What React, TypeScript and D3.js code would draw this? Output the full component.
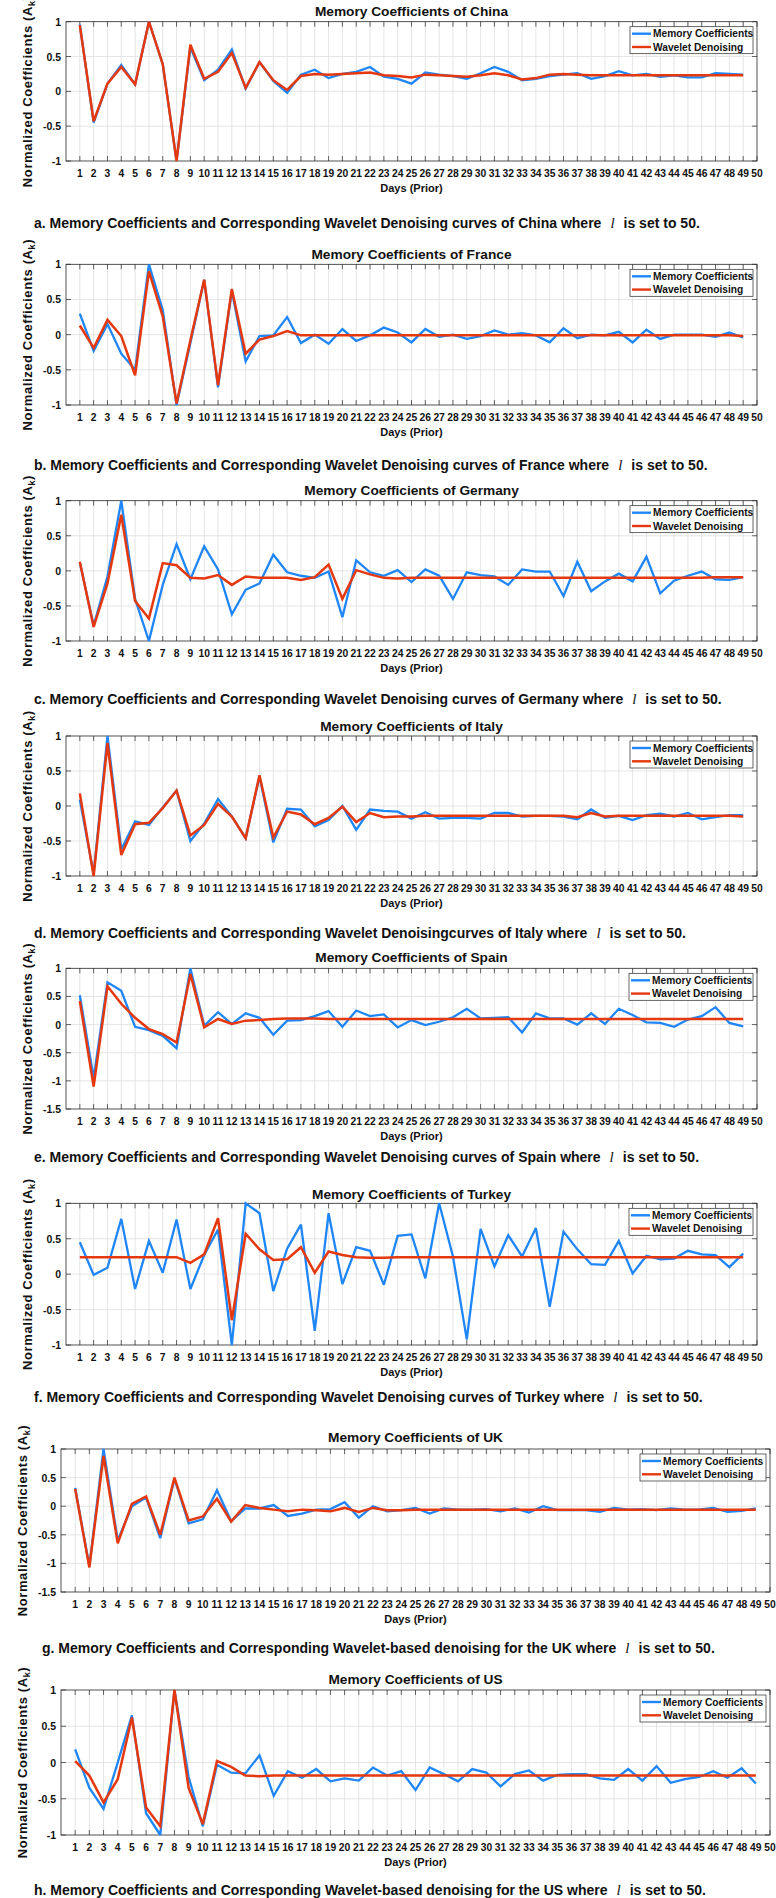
import React from 'react';
import * as d3 from 'd3';

const days = [1,2,3,4,5,6,7,8,9,10,11,12,13,14,15,16,17,18,19,20,21,22,23,24,25,26,27,28,29,30,31,32,33,34,35,36,37,38,39,40,41,42,43,44,45,46,47,48,49];
const xTickValues = [1,2,3,4,5,6,7,8,9,10,11,12,13,14,15,16,17,18,19,20,21,22,23,24,25,26,27,28,29,30,31,32,33,34,35,36,37,38,39,40,41,42,43,44,45,46,47,48,49,50];
const yTicksStd = [-1, -0.5, 0, 0.5, 1];
const yTicksWide = [-1.5, -1, -0.5, 0, 0.5, 1];

const chinaMemory = [0.96,-0.45,0.11,0.38,0.1,1.0,0.39,-1.0,0.63,0.16,0.31,0.6,0.04,0.42,0.15,-0.02,0.24,0.31,0.19,0.25,0.28,0.35,0.21,0.18,0.11,0.27,0.24,0.22,0.18,0.26,0.35,0.28,0.16,0.18,0.22,0.24,0.26,0.18,0.22,0.29,0.23,0.25,0.21,0.23,0.2,0.2,0.26,0.25,0.24];
const chinaWavelet = [0.95,-0.43,0.11,0.35,0.1,1.0,0.39,-1.0,0.67,0.18,0.28,0.55,0.05,0.42,0.16,0.02,0.22,0.25,0.24,0.25,0.26,0.27,0.23,0.22,0.2,0.24,0.23,0.22,0.21,0.23,0.26,0.23,0.17,0.19,0.24,0.25,0.24,0.23,0.23,0.23,0.23,0.23,0.23,0.23,0.23,0.23,0.23,0.23,0.23];

const franceMemory = [0.3,-0.23,0.15,-0.27,-0.5,1.0,0.35,-1.0,-0.12,0.78,-0.75,0.62,-0.38,-0.02,-0.01,0.25,-0.12,0.0,-0.13,0.08,-0.09,-0.01,0.1,0.03,-0.11,0.08,-0.03,0.0,-0.06,-0.02,0.06,0.0,0.02,-0.01,-0.11,0.09,-0.05,0.0,-0.01,0.04,-0.11,0.07,-0.06,0.0,0.0,0.0,-0.03,0.03,-0.04];
const franceWavelet = [0.13,-0.19,0.21,-0.02,-0.58,0.9,0.26,-0.98,-0.08,0.78,-0.72,0.65,-0.27,-0.07,-0.02,0.05,-0.01,-0.01,-0.01,-0.01,-0.01,-0.01,-0.01,-0.01,-0.01,-0.01,-0.01,-0.01,-0.01,-0.01,-0.01,-0.01,-0.01,-0.01,-0.01,-0.01,-0.01,-0.01,-0.01,-0.01,-0.01,-0.01,-0.01,-0.01,-0.01,-0.01,-0.01,-0.01,-0.02];

const germanyMemory = [0.12,-0.78,-0.08,1.0,-0.4,-1.0,-0.2,0.38,-0.12,0.35,0.02,-0.62,-0.27,-0.18,0.23,-0.02,-0.07,-0.1,-0.01,-0.66,0.15,-0.02,-0.07,0.01,-0.16,0.02,-0.07,-0.4,-0.02,-0.06,-0.08,-0.2,0.02,-0.01,-0.01,-0.36,0.13,-0.29,-0.15,-0.04,-0.15,0.2,-0.32,-0.14,-0.07,-0.01,-0.12,-0.13,-0.09];
const germanyWavelet = [0.13,-0.8,-0.18,0.8,-0.43,-0.68,0.11,0.08,-0.1,-0.11,-0.06,-0.2,-0.08,-0.1,-0.1,-0.1,-0.13,-0.09,0.09,-0.4,0.01,-0.05,-0.1,-0.11,-0.1,-0.1,-0.1,-0.1,-0.1,-0.1,-0.1,-0.1,-0.1,-0.1,-0.1,-0.1,-0.1,-0.1,-0.1,-0.1,-0.1,-0.1,-0.1,-0.1,-0.1,-0.1,-0.09,-0.09,-0.09];

const italyMemory = [0.09,-0.97,1.0,-0.62,-0.22,-0.27,-0.02,0.22,-0.5,-0.25,0.1,-0.15,-0.46,0.42,-0.52,-0.04,-0.05,-0.29,-0.2,0.0,-0.34,-0.05,-0.07,-0.08,-0.18,-0.09,-0.18,-0.17,-0.17,-0.18,-0.1,-0.1,-0.15,-0.14,-0.14,-0.15,-0.19,-0.05,-0.17,-0.14,-0.2,-0.13,-0.11,-0.15,-0.1,-0.19,-0.16,-0.13,-0.13];
const italyWavelet = [0.18,-1.0,0.9,-0.7,-0.26,-0.24,-0.03,0.22,-0.42,-0.27,0.03,-0.15,-0.46,0.44,-0.45,-0.08,-0.12,-0.26,-0.17,-0.01,-0.23,-0.1,-0.16,-0.15,-0.15,-0.14,-0.14,-0.14,-0.14,-0.14,-0.14,-0.14,-0.14,-0.14,-0.14,-0.14,-0.16,-0.1,-0.15,-0.14,-0.14,-0.14,-0.14,-0.14,-0.14,-0.14,-0.14,-0.14,-0.15];

const spainMemory = [0.52,-0.95,0.75,0.6,-0.04,-0.1,-0.2,-0.42,1.0,-0.02,0.22,0.01,0.2,0.12,-0.18,0.07,0.08,0.15,0.24,-0.04,0.25,0.15,0.18,-0.05,0.08,-0.01,0.05,0.13,0.28,0.11,0.12,0.13,-0.14,0.2,0.11,0.11,0.0,0.2,0.01,0.28,0.17,0.04,0.03,-0.04,0.09,0.15,0.31,0.03,-0.03];
const spainWavelet = [0.42,-1.1,0.68,0.37,0.12,-0.08,-0.17,-0.32,0.9,-0.05,0.1,0.01,0.07,0.08,0.1,0.11,0.11,0.11,0.1,0.1,0.1,0.1,0.1,0.1,0.1,0.1,0.1,0.1,0.1,0.1,0.1,0.1,0.1,0.1,0.1,0.1,0.1,0.1,0.1,0.1,0.1,0.1,0.1,0.1,0.1,0.1,0.1,0.1,0.1];

const turkeyMemory = [0.45,-0.01,0.09,0.78,-0.21,0.47,0.02,0.77,-0.21,0.27,0.63,-1.0,1.0,0.86,-0.24,0.36,0.7,-0.8,0.86,-0.14,0.38,0.33,-0.15,0.54,0.56,-0.06,1.0,0.25,-0.92,0.64,0.11,0.55,0.25,0.65,-0.46,0.6,0.35,0.14,0.13,0.47,0.01,0.26,0.21,0.22,0.33,0.28,0.27,0.1,0.29];
const turkeyWavelet = [0.24,0.24,0.24,0.24,0.24,0.24,0.24,0.24,0.16,0.28,0.79,-0.65,0.57,0.35,0.2,0.21,0.38,0.02,0.32,0.27,0.24,0.23,0.23,0.24,0.24,0.24,0.24,0.24,0.24,0.24,0.24,0.24,0.24,0.24,0.24,0.24,0.24,0.24,0.24,0.24,0.24,0.24,0.24,0.24,0.24,0.24,0.24,0.24,0.24];

const ukMemory = [0.32,-1.05,1.0,-0.6,0.0,0.15,-0.56,0.48,-0.3,-0.23,0.28,-0.26,-0.04,-0.04,0.02,-0.17,-0.13,-0.06,-0.05,0.07,-0.2,0.0,-0.09,-0.07,-0.03,-0.13,-0.04,-0.06,-0.06,-0.05,-0.09,-0.04,-0.11,0.0,-0.07,-0.07,-0.07,-0.1,-0.03,-0.06,-0.05,-0.07,-0.04,-0.06,-0.06,-0.03,-0.1,-0.08,-0.04];
const ukWavelet = [0.3,-1.07,0.88,-0.65,0.04,0.17,-0.5,0.5,-0.25,-0.18,0.13,-0.27,0.02,-0.03,-0.06,-0.09,-0.06,-0.07,-0.09,-0.03,-0.1,-0.03,-0.07,-0.07,-0.06,-0.06,-0.06,-0.06,-0.06,-0.06,-0.06,-0.06,-0.06,-0.06,-0.06,-0.06,-0.06,-0.06,-0.06,-0.06,-0.06,-0.06,-0.06,-0.06,-0.06,-0.06,-0.06,-0.06,-0.06];

const usMemory = [0.18,-0.35,-0.64,0.0,0.65,-0.7,-1.0,1.0,-0.2,-0.88,-0.03,-0.14,-0.15,0.1,-0.46,-0.12,-0.21,-0.09,-0.26,-0.22,-0.25,-0.07,-0.18,-0.12,-0.38,-0.07,-0.16,-0.26,-0.09,-0.14,-0.33,-0.16,-0.11,-0.25,-0.17,-0.16,-0.16,-0.22,-0.24,-0.09,-0.25,-0.05,-0.28,-0.23,-0.2,-0.12,-0.21,-0.08,-0.29];
const usWavelet = [0.02,-0.18,-0.55,-0.23,0.62,-0.62,-0.88,1.0,-0.35,-0.85,0.02,-0.06,-0.18,-0.19,-0.18,-0.18,-0.18,-0.18,-0.18,-0.18,-0.18,-0.18,-0.18,-0.18,-0.18,-0.18,-0.18,-0.18,-0.18,-0.18,-0.18,-0.18,-0.18,-0.18,-0.18,-0.18,-0.18,-0.18,-0.18,-0.18,-0.18,-0.18,-0.18,-0.18,-0.18,-0.18,-0.18,-0.18,-0.18];

const seriesNames = ['Memory Coefficients', 'Wavelet Denoising'];
const seriesColors = ['#1f86f7', '#e5380f'];

type Panel = {
  title: string;
  mem: number[];
  wav: number[];
  yTicks: number[];
  top: number;
  bottom: number;
  left: number;
  right: number;
  titleY: number;
  captionY: number;
  captionX: number;
  yLabelX: number;
  capPre: string;
  legendW: number;
};

const panels: Panel[] = [
  { title: 'Memory Coefficients of China', mem: chinaMemory, wav: chinaWavelet, yTicks: yTicksStd, top: 21.7, bottom: 161, left: 66, right: 757, titleY: 11.7, captionY: 223, captionX: 34, yLabelX: 27, capPre: 'a. Memory Coefficients and Corresponding Wavelet Denoising curves of China where', legendW: 123 },
  { title: 'Memory Coefficients of France', mem: franceMemory, wav: franceWavelet, yTicks: yTicksStd, top: 264.3, bottom: 405, left: 66, right: 757, titleY: 254, captionY: 465, captionX: 34, yLabelX: 27, capPre: 'b. Memory Coefficients and Corresponding Wavelet Denoising curves of France where', legendW: 123 },
  { title: 'Memory Coefficients of Germany', mem: germanyMemory, wav: germanyWavelet, yTicks: yTicksStd, top: 500.7, bottom: 641, left: 66, right: 757, titleY: 490, captionY: 699, captionX: 34, yLabelX: 27, capPre: 'c. Memory Coefficients and Corresponding Wavelet Denoising curves of Germany where', legendW: 123 },
  { title: 'Memory Coefficients of Italy', mem: italyMemory, wav: italyWavelet, yTicks: yTicksStd, top: 736, bottom: 876, left: 66, right: 757, titleY: 726, captionY: 933, captionX: 34, yLabelX: 27, capPre: 'd. Memory Coefficients and Corresponding Wavelet Denoisingcurves of Italy where', legendW: 123 },
  { title: 'Memory Coefficients of Spain', mem: spainMemory, wav: spainWavelet, yTicks: yTicksWide, top: 968.3, bottom: 1109, left: 66, right: 757, titleY: 957.7, captionY: 1157, captionX: 34, yLabelX: 27, capPre: 'e. Memory Coefficients and Corresponding Wavelet Denoising curves of Spain where', legendW: 124 },
  { title: 'Memory Coefficients of Turkey', mem: turkeyMemory, wav: turkeyWavelet, yTicks: yTicksStd, top: 1203.3, bottom: 1345, left: 66, right: 757, titleY: 1194, captionY: 1397, captionX: 34, yLabelX: 27, capPre: 'f. Memory Coefficients and Corresponding Wavelet Denoising curves of Turkey where', legendW: 124 },
  { title: 'Memory Coefficients of UK', mem: ukMemory, wav: ukWavelet, yTicks: yTicksWide, top: 1449, bottom: 1592, left: 61, right: 770, titleY: 1437.7, captionY: 1648, captionX: 42, yLabelX: 22, capPre: 'g. Memory Coefficients and Corresponding Wavelet-based denoising for the UK where', legendW: 126 },
  { title: 'Memory Coefficients of US', mem: usMemory, wav: usWavelet, yTicks: yTicksStd, top: 1690, bottom: 1835, left: 61, right: 770, titleY: 1679, captionY: 1890, captionX: 34, yLabelX: 22, capPre: 'h. Memory Coefficients and Corresponding Wavelet-based denoising for the US where', legendW: 126 },
];

const FONT = '"Liberation Sans", Arial, Helvetica, sans-serif';
const AXIS = '#262626';
const GRID = '#dedede';

function PanelChart({ p }: { p: Panel }) {
  const x = d3.scaleLinear().domain([0, 50]).range([p.left, p.right]);
  const yMin = p.yTicks[0];
  const y = d3.scaleLinear().domain([yMin, 1]).range([p.bottom, p.top]);
  const line = d3.line<number>().x((_, i) => x(days[i])).y((v) => y(v));
  const cx = (p.left + p.right) / 2;
  const cy = (p.top + p.bottom) / 2;
  const lgX = p.right - 4 - p.legendW;
  const lgY = p.top + 5;
  return (
    <g>
      {xTickValues.slice(0, 49).map((t) => (
        <line key={'gx' + t} x1={x(t)} x2={x(t)} y1={p.top} y2={p.bottom} stroke={GRID} strokeWidth={0.8} />
      ))}
      {p.yTicks.slice(1, -1).map((t) => (
        <line key={'gy' + t} x1={p.left} x2={p.right} y1={y(t)} y2={y(t)} stroke={GRID} strokeWidth={0.8} />
      ))}
      {xTickValues.map((t) => (
        <g key={'tx' + t}>
          <line x1={x(t)} x2={x(t)} y1={p.bottom} y2={p.bottom - 5} stroke={AXIS} strokeWidth={0.7} />
          <line x1={x(t)} x2={x(t)} y1={p.top} y2={p.top + 5} stroke={AXIS} strokeWidth={0.7} />
          <text x={x(t)} y={p.bottom + 12} textAnchor="middle" dominantBaseline="central" fontFamily={FONT} fontWeight="bold" fontSize={10.3} fill="#111">{t}</text>
        </g>
      ))}
      {p.yTicks.map((t) => (
        <g key={'ty' + t}>
          <line x1={p.left} x2={p.left + 5} y1={y(t)} y2={y(t)} stroke={AXIS} strokeWidth={0.7} />
          <line x1={p.right} x2={p.right - 5} y1={y(t)} y2={y(t)} stroke={AXIS} strokeWidth={0.7} />
          <text x={p.left - 5} y={y(t)} textAnchor="end" dominantBaseline="central" fontFamily={FONT} fontWeight="bold" fontSize={10.5} fill="#111">{String(t)}</text>
        </g>
      ))}
      <rect x={p.left} y={p.top} width={p.right - p.left} height={p.bottom - p.top} fill="none" stroke={AXIS} strokeWidth={0.8} />
      <path d={line(p.mem) || ''} fill="none" stroke={seriesColors[0]} strokeWidth={2.3} strokeLinejoin="miter" strokeMiterlimit={3} />
      <path d={line(p.wav) || ''} fill="none" stroke={seriesColors[1]} strokeWidth={2.5} strokeLinejoin="miter" strokeMiterlimit={3} />
      <text x={cx} y={p.titleY} textAnchor="middle" dominantBaseline="central" fontFamily={FONT} fontWeight="bold" fontSize={13.7} fill="#111">{p.title}</text>
      <text transform={`translate(${p.yLabelX},${cy}) rotate(-90)`} textAnchor="middle" dominantBaseline="central" fontFamily={FONT} fontWeight="bold" fontSize={13} letterSpacing={0.6} fill="#111">
        Normalized Coefficients (A<tspan fontSize={9} baselineShift="sub">k</tspan>)
      </text>
      <text x={cx} y={p.bottom + 27} textAnchor="middle" dominantBaseline="central" fontFamily={FONT} fontWeight="bold" fontSize={11} fill="#111">Days (Prior)</text>
      <rect x={lgX} y={lgY} width={p.legendW} height={27} fill="#fff" stroke={AXIS} strokeWidth={0.7} />
      {seriesNames.map((s, i) => (
        <g key={s}>
          <line x1={lgX + 2} x2={lgX + 21} y1={lgY + 7 + i * 13.3} y2={lgY + 7 + i * 13.3} stroke={seriesColors[i]} strokeWidth={2.4} />
          <text x={lgX + 23} y={lgY + 7 + i * 13.3} dominantBaseline="central" fontFamily={FONT} fontWeight="bold" fontSize={10.2} fill="#111">{s}</text>
        </g>
      ))}
      <text x={p.captionX} y={p.captionY} dominantBaseline="central" fontFamily={FONT} fontWeight="bold" fontSize={14} fill="#111">
        {p.capPre}
        <tspan dx={9} fontFamily='"Liberation Serif", "Times New Roman", serif' fontStyle="italic" fontWeight="normal" fontSize={15}>l</tspan>
        <tspan dx={9}>is set to 50.</tspan>
      </text>
    </g>
  );
}

export default function App() {
  return (
    <svg width={776} height={1898} viewBox="0 0 776 1898" style={{ position: 'absolute', left: 0, top: 0, background: '#fff' }}>
      <rect x={0} y={0} width={776} height={1898} fill="#fff" />
      {panels.map((p) => (
        <PanelChart key={p.title} p={p} />
      ))}
    </svg>
  );
}
